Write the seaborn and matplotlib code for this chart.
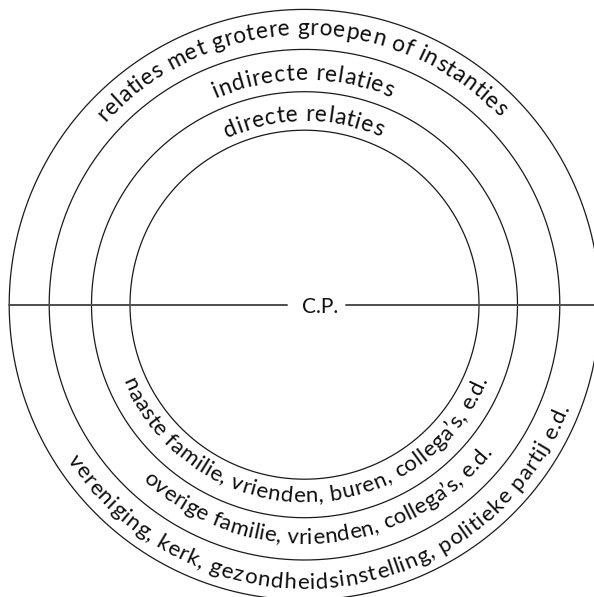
import numpy as np
import matplotlib
matplotlib.use("Agg")
import matplotlib.pyplot as plt
import seaborn as sns
from matplotlib.font_manager import FontProperties, findfont
from matplotlib.ft2font import FT2Font

sns.set_theme(style="white")
plt.rcParams['font.family'] = ['Lato', 'DejaVu Sans']

# Data: ring labels (inner to outer)
ring_radii = [174.5, 213.0, 255.3, 295.3]
top_labels = ["directe relaties",
              "indirecte relaties",
              "relaties met grotere groepen of instanties"]
bottom_labels = ["naaste familie, vrienden, buren, collega’s, e.d.",
                 "overige familie, vrienden, collega’s, e.d.",
                 "vereniging, kerk, gezondheidsinstelling, politieke partij e.d."]
center_label = "C.P."

# Layout
W, H = 594, 597
cx, cy = 304.5, H - 304.7
top_fs, bottom_fs = 16.5, 16
top_baselines = [183.7, 224.7, 270.0]
top_spans = [(115.0, 65.6), (113.4, 67.3), (137.5, 43.9)]
bottom_baselines = [197.5, 239.0, 284.0]
bottom_spans = [(202.5, 338.0), (227.0, 322.0), (213.0, 339.0)]

fig = plt.figure(figsize=(5.94, 5.97), dpi=100)
ax = fig.add_axes([0, 0, 1, 1])
ax.set_xlim(0, W)
ax.set_ylim(0, H)
ax.axis('off')

# Circles
theta = np.linspace(0, 2 * np.pi, 1441)
for r in ring_radii:
    sns.lineplot(x=cx + r * np.cos(theta), y=cy + r * np.sin(theta), sort=False,
                 estimator=None, color='#1a1a1a', lw=0.9, ax=ax)

# Horizontal line with gap for the label
ax.plot([cx - ring_radii[-1], 286.7], [cy, cy], color='#4d4d4d', lw=1.4)
ax.plot([345.5, W], [cy, cy], color='#4d4d4d', lw=1.4)
ax.text(320.5, cy - 8.6, center_label, ha='center', va='baseline',
        fontsize=15, color='#111111')

font = FT2Font(findfont(FontProperties(family='Lato')))


def advances(s, fs):
    font.set_size(fs, 100)
    return np.array([font.load_char(ord(c)).linearHoriAdvance / 65536.0 for c in s])


def curved(s, r, span, fs, top=True):
    adv = advances(s, fs)
    pos = np.cumsum(adv) - adv / 2
    total = adv.sum()
    start, end = span
    for c, p in zip(s, pos):
        if c == ' ':
            continue
        ang = start + (end - start) * p / total
        rot = ang - 90 if top else ang + 90
        a = np.radians(ang)
        ax.text(cx + r * np.cos(a), cy + r * np.sin(a), c, fontsize=fs,
                rotation=rot, rotation_mode='anchor', ha='center',
                va='baseline', color='#0d0d0d')


for lab, r, sp in zip(top_labels, top_baselines, top_spans):
    curved(lab, r, sp, top_fs, top=True)
for lab, r, sp in zip(bottom_labels, bottom_baselines, bottom_spans):
    curved(lab, r, sp, bottom_fs, top=False)

fig.savefig("out.png", dpi=100, facecolor='white')
